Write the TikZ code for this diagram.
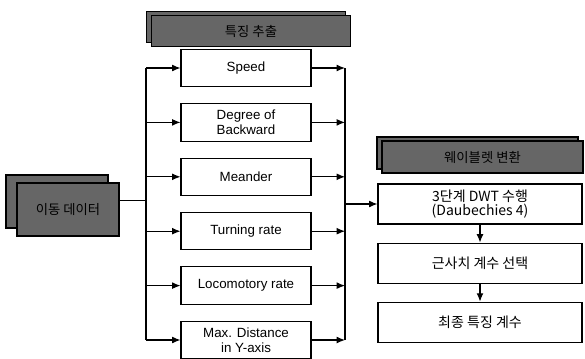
\documentclass[tikz,border=0pt]{standalone}
\usepackage{fontspec}
\setmainfont{Liberation Sans}
\newfontfamily\kr{Noto Sans CJK KR}
\usetikzlibrary{arrows.meta,positioning,shadows}

\begin{document}
\begin{tikzpicture}[
    x=0.75pt, y=-0.75pt,
    node distance=12pt,
    featbox/.style={draw, line width=0.8pt, align=center, minimum width=97.5pt, minimum height=28pt, inner sep=0.5pt, font=\fontsize{10}{11}\selectfont},
    stepbox/.style={draw, line width=0.8pt, align=center, minimum width=153pt, minimum height=30pt, inner sep=1pt, font=\kr\fontsize{10.5}{11}\selectfont},
    headbox/.style={draw, line width=0.8pt, fill=black!60, minimum width=149pt, minimum height=23pt, font=\kr\fontsize{10}{12}\selectfont, copy shadow={shadow xshift=-3.75pt, shadow yshift=3pt}},
    databox/.style={draw, line width=0.8pt, fill=black!60, minimum width=76.5pt, minimum height=39.75pt, font=\kr\fontsize{10}{12}\selectfont, copy shadow={shadow xshift=-8.25pt, shadow yshift=6pt}},
    arrow/.style={-{Latex[length=2.2mm,width=1.8mm]}, line width=0.8pt}
]
\useasboundingbox (0,0) rectangle (585,358);
% input data
\node[databox] (data) at (68,209.5) {이동 데이터};
% feature extraction column
\node[headbox] (feathead) at (251,31) {특징 추출};
\node[featbox] (speed) at (246,68) {Speed};
\node[featbox, below=of speed] (backward) {Degree of\\Backward};
\node[featbox, below=of backward] (meander) {Meander};
\node[featbox, below=of meander] (turning) {Turning rate};
\node[featbox, below=of turning] (locomotory) {Locomotory rate};
\node[featbox, below=of locomotory] (maxdist) {Max. Distance\\in Y-axis};
% wavelet column
\node[headbox, minimum width=150.75pt, minimum height=24pt] (wavehead) at (482.5,157) {웨이블렛 변환};
\node[stepbox] (dwt) at (480,204) {3단계 DWT 수행\\(Daubechies 4)};
\node[stepbox, below=13.5pt of dwt] (approx) {근사치 계수 선택};
\node[stepbox, below=13.5pt of approx] (coeff) {최종 특징 계수};
% buses
\coordinate (lbus) at (146,200);
\coordinate (rbus) at (345,204);
\draw[line width=0.8pt] ([yshift=7pt]data.east) -- ([yshift=7pt]data.east -| lbus);
\draw[line width=0.8pt] (lbus |- speed.west) -- (lbus |- maxdist.west);
\draw[line width=0.8pt] (rbus |- speed.east) -- (rbus |- maxdist.east);
\draw[arrow] (lbus |- speed.west) -- (speed.west);
\draw[arrow] (lbus |- backward.west) -- (backward.west);
\draw[arrow] (lbus |- meander.west) -- (meander.west);
\draw[arrow] (lbus |- turning.west) -- (turning.west);
\draw[arrow] (lbus |- locomotory.west) -- (locomotory.west);
\draw[arrow] (lbus |- maxdist.west) -- (maxdist.west);
\draw[arrow] (speed.east) -- (rbus |- speed.east);
\draw[arrow] (backward.east) -- (rbus |- backward.east);
\draw[arrow] (meander.east) -- (rbus |- meander.east);
\draw[arrow] (turning.east) -- (rbus |- turning.east);
\draw[arrow] (locomotory.east) -- (rbus |- locomotory.east);
\draw[arrow] (maxdist.east) -- (rbus |- maxdist.east);
\draw[arrow] (rbus) -- (dwt.west);
\draw[arrow] (dwt) -- (approx);
\draw[arrow] (approx) -- (coeff);
\end{tikzpicture}
\end{document}
